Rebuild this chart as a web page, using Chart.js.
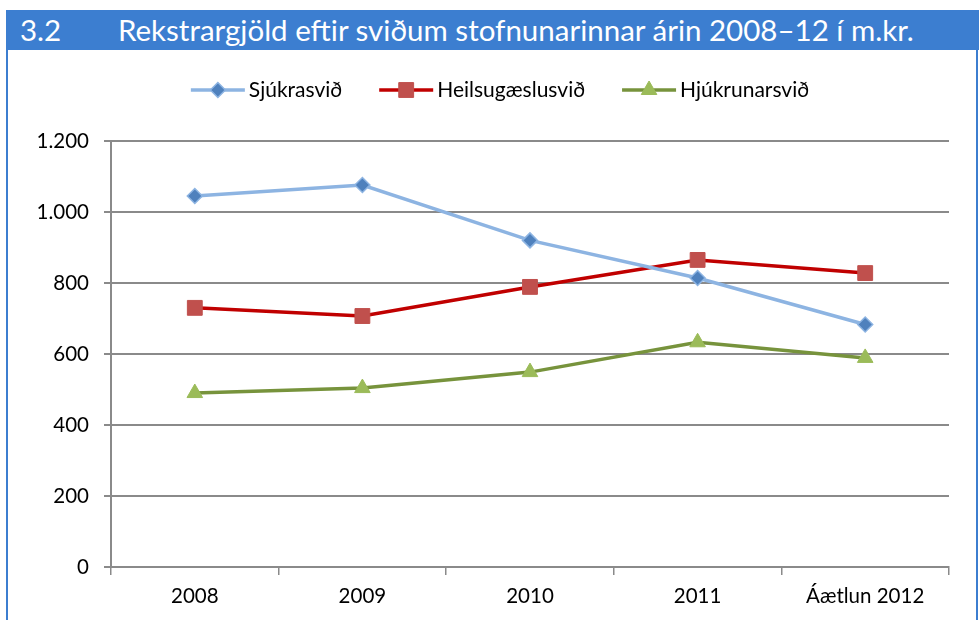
<!DOCTYPE html>
<html>
<head>
<meta charset="utf-8">
<script src="https://cdn.jsdelivr.net/npm/chart.js@4"></script>
<style>
  body { margin: 0; background: #fff; font-family: Lato, "Open Sans", sans-serif; }
  #frame { position: absolute; left: 6px; top: 10px; width: 968px; height: 620px;
           border-left: 2px solid #3c7ed0; border-right: 2px solid #3c7ed0; }
  #titlebar { position: absolute; left: 6px; top: 10px; width: 973px; height: 40px;
              background: #3c7ed0; color: #fff; font-size: 29.5px; line-height: 40px; white-space: nowrap; }
  #titlebar .num { position: absolute; left: 14px; }
  #titlebar .txt { position: absolute; left: 112px; }
  #wrap { position: absolute; left: 8px; top: 50px; width: 968px; height: 570px; }
</style>
</head>
<body>
<div id="frame"></div>
<div id="titlebar"><span class="num">3.2</span><span class="txt">Rekstrargjöld eftir sviðum stofnunarinnar árin 2008–12 í m.kr.</span></div>
<div id="wrap"><canvas id="chart"></canvas></div>
<script>
// categories and series (m.kr.)
const years = ["2008", "2009", "2010", "2011", "Áætlun 2012"];
const sjukrasvid = [1045, 1076, 920, 814, 683];
const heilsugaesla = [730, 707, 789, 865, 828];
const hjukrun = [490, 504, 549, 633, 589];
const yTicks = [0, 200, 400, 600, 800, 1000, 1200];

const FONT = "Lato, 'Open Sans', sans-serif";
const gridColor = "#8a8a8a";

// legend drawn as line + marker, like the spreadsheet original
const lineLegend = {
  id: "lineLegend",
  afterDraw(chart) {
    const ctx = chart.ctx;
    ctx.save();
    ctx.font = "21px " + FONT;
    ctx.textBaseline = "middle";
    const iconW = 54, gap = 4, space = 37;
    const items = chart.data.datasets.map(ds => ({ ds, w: ctx.measureText(ds.label).width }));
    let total = items.reduce((s, it) => s + iconW + gap + it.w, 0) + space * (items.length - 1);
    let x = chart.width / 2 + 8 - total / 2;
    const y = 40;
    items.forEach(it => {
      const ds = it.ds;
      ctx.strokeStyle = ds.borderColor;
      ctx.lineWidth = ds.borderWidth;
      ctx.beginPath();
      ctx.moveTo(x, y);
      ctx.lineTo(x + iconW, y);
      ctx.stroke();
      ctx.fillStyle = ds.pointBackgroundColor;
      ctx.strokeStyle = ds.pointBorderColor;
      ctx.lineWidth = ds.pointBorderWidth;
      Chart.helpers.drawPoint(ctx, { pointStyle: ds.pointStyle, radius: ds.pointRadius, borderWidth: ds.pointBorderWidth, rotation: 0 }, x + iconW / 2, y);
      ctx.fillStyle = "#000";
      ctx.fillText(ds.label, x + iconW + gap, y);
      x += iconW + gap + it.w + space;
    });
    ctx.restore();
  }
};

const ctx = document.getElementById("chart").getContext("2d");
new Chart(ctx, {
  type: "line",
  data: {
    labels: years,
    datasets: [
      {
        label: "Sjúkrasvið",
        data: sjukrasvid,
        borderColor: "#8db4e2",
        borderWidth: 3.5,
        pointStyle: "rectRot",
        pointRadius: 7.5,
        pointBackgroundColor: "#4f81bd",
        pointBorderColor: "#8db4e2",
        pointBorderWidth: 1.5,
        tension: 0
      },
      {
        label: "Heilsugæslusvið",
        data: heilsugaesla,
        borderColor: "#c00000",
        borderWidth: 3.5,
        pointStyle: "rect",
        pointRadius: 10.5,
        pointBackgroundColor: "#c0504d",
        pointBorderColor: "#c0504d",
        pointBorderWidth: 1,
        tension: 0
      },
      {
        label: "Hjúkrunarsvið",
        data: hjukrun,
        borderColor: "#77933c",
        borderWidth: 3.5,
        pointStyle: "triangle",
        pointRadius: 9,
        pointBackgroundColor: "#9bbb59",
        pointBorderColor: "#9bbb59",
        pointBorderWidth: 1,
        tension: 0
      }
    ]
  },
  options: {
    responsive: true,
    maintainAspectRatio: false,
    animation: false,
    layout: { padding: { top: 91, right: 27, left: 0, bottom: 0 } },
    plugins: { legend: { display: false }, tooltip: { enabled: false } },
    scales: {
      x: {
        offset: true,
        grid: { offset: true, drawOnChartArea: false, drawTicks: true, tickLength: 8, color: gridColor, lineWidth: 1.5 },
        border: { color: gridColor, width: 2 },
        ticks: { color: "#000", font: { family: FONT, size: 20.5 }, padding: 9, maxRotation: 0 },
        afterFit(scale) { scale.height = 53; }
      },
      y: {
        min: yTicks[0],
        max: yTicks[yTicks.length - 1],
        afterBuildTicks(scale) { scale.ticks = yTicks.map(v => ({ value: v })); },
        grid: { color: gridColor, lineWidth: 2, tickLength: 7 },
        border: { color: gridColor, width: 2 },
        ticks: {
          color: "#000",
          font: { family: FONT, size: 20.5 },
          padding: 15,
          callback: v => String(v).replace(/\B(?=(\d{3})+(?!\d))/g, ".")
        },
        afterFit(scale) { scale.width = 103; }
      }
    }
  },
  plugins: [lineLegend]
});
</script>
</body>
</html>
